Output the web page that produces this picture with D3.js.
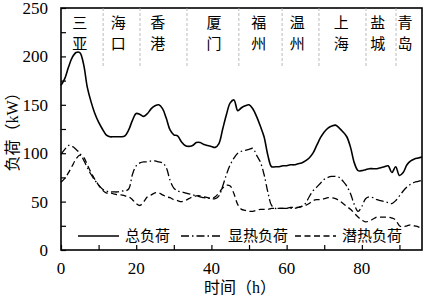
<!DOCTYPE html>
<html>
<head>
<meta charset="utf-8">
<script src="https://cdn.jsdelivr.net/npm/d3@7"></script>
<style>
  body { margin: 0; background: #fff; }
  text { font-family: "Liberation Serif", "Noto Sans CJK SC", serif; fill: #000; }
</style>
</head>
<body>
<svg id="chart"></svg>
<script>
// hourly loads (kW)
const hours = d3.range(0, 97);
const totalLoad = [170,177,189,199,204,204,192,168,153,141,132,125,119,117,117,117,117,118,124,134,
  141,140,138,141,146,149,150,146,136,124,119,118,112,108,107,108,111,111,109,108,
  107,106,110,125,140,152,155,144,147,149,150,146,138,128,117,98,86,86,86,87,
  87,88,88,89,90,92,95,100,108,116,122,126,128,129,126,122,117,106,90,82,
  82,83,84,84,84,85,86,87,80,86,77,80,88,92,94,95,96];
const sensibleLoad = [99,104,108,107,104,100,93,85,78,72,67,63,61,60,60,60,61,61,63,78,
  87,90,91,91,92,92,91,90,85,72,64,61,60,59,58,57,56,55,54,54,
  53,53,56,66,78,88,95,100,102,103,104,105,98,91,78,60,46,43,43,43,
  43,43,43,44,45,48,55,61,65,69,73,75,76,76,75,71,66,58,47,40,
  45,53,55,54,52,51,50,49,48,51,56,61,65,68,70,71,72];
const latentLoad = [70,74,80,87,94,98,96,88,80,73,67,62,59,59,58,57,57,56,55,52,
  48,46,50,55,57,59,59,57,55,54,52,51,50,51,53,55,56,56,55,54,
  53,55,59,64,67,66,58,47,42,41,40,40,41,42,42,42,43,43,43,43,
  43,44,44,44,45,46,48,51,52,52,53,54,54,53,51,48,45,42,38,34,
  31,29,30,32,34,34,34,34,33,31,25,24,25,26,25,24,22];

const seriesNames = ['总负荷', '显热负荷', '潜热负荷'];
const cities = ['三亚', '海口', '香港', '厦门', '福州', '温州', '上海', '盐城', '青岛'];
const cityHours = [5, 15.2, 25.7, 40.7, 52.6, 62.8, 74.5, 84.2, 91.5];
const cityBreaks = [11.2, 21, 33.5, 47.3, 58.8, 68.6, 81.1, 89.1];
const xTicks = [0, 20, 40, 60, 80];
const yTicks = [0, 50, 100, 150, 200, 250];

const config = {
  width: 425, height: 298,
  margin: { top: 8, right: 3, bottom: 48, left: 61 }
};

const svg = d3.select('#chart')
    .attr('width', config.width)
    .attr('height', config.height);

const innerW = config.width - config.margin.left - config.margin.right;
const innerH = config.height - config.margin.top - config.margin.bottom;

const chart = svg.append('g')
    .attr('transform', `translate(${config.margin.left},${config.margin.top})`);

const xScale = d3.scaleLinear().domain([0, 96]).range([0, innerW]);
const yScale = d3.scaleLinear().domain([0, 250]).range([innerH, 0]);

// axes with inward ticks
const xAxis = d3.axisBottom(xScale)
    .tickValues(d3.range(0, 97, 10))
    .tickSize(-5)
    .tickSizeOuter(0)
    .tickFormat('');
const yAxis = d3.axisLeft(yScale)
    .tickValues(d3.range(0, 251, 25))
    .tickSize(-5)
    .tickSizeOuter(0)
    .tickFormat('');

chart.append('g')
    .attr('transform', `translate(0,${innerH})`)
    .call(xAxis)
    .call(g => g.select('.domain').remove())
    .selectAll('line').attr('stroke', '#000').attr('stroke-width', 1.2);

chart.append('g')
    .call(yAxis)
    .call(g => g.select('.domain').remove())
    .selectAll('line').attr('stroke', '#000').attr('stroke-width', 1.2);

// frame
chart.append('rect')
    .attr('width', innerW)
    .attr('height', innerH)
    .attr('fill', 'none')
    .attr('stroke', '#000')
    .attr('stroke-width', 1.6);

// tick labels
chart.selectAll('.x-label')
    .data(xTicks)
  .join('text')
    .attr('x', d => xScale(d))
    .attr('y', innerH + 24)
    .attr('text-anchor', 'middle')
    .style('font-size', '17px')
    .text(d => d);

chart.selectAll('.y-label')
    .data(yTicks)
  .join('text')
    .attr('x', -13)
    .attr('y', d => yScale(d))
    .attr('dy', '0.35em')
    .attr('text-anchor', 'end')
    .style('font-size', '17px')
    .text(d => d);

// axis titles
svg.append('text')
    .attr('x', 240)
    .attr('y', 293)
    .attr('text-anchor', 'middle')
    .style('font-size', '16px')
    .text('时间（h）');

svg.append('text')
    .attr('transform', 'translate(18,128) rotate(-90)')
    .attr('text-anchor', 'middle')
    .style('font-size', '16px')
    .text('负荷（kW）');

// city separators and names
chart.selectAll('.city-break')
    .data(cityBreaks)
  .join('line')
    .attr('x1', d => xScale(d))
    .attr('x2', d => xScale(d))
    .attr('y1', 0)
    .attr('y2', 60)
    .attr('stroke', '#aaa')
    .attr('stroke-width', 0.8)
    .attr('stroke-dasharray', '3,2');

const cityG = chart.selectAll('.city')
    .data(cities)
  .join('g')
    .attr('transform', (d, i) => `translate(${xScale(cityHours[i])},0)`);
cityG.append('text')
    .attr('y', 20)
    .attr('text-anchor', 'middle')
    .style('font-size', '15px')
    .text(d => d[0]);
cityG.append('text')
    .attr('y', 41)
    .attr('text-anchor', 'middle')
    .style('font-size', '15px')
    .text(d => d[1]);

// lines
const styles = [
  { dash: null, width: 1.6 },
  { dash: '8,3,1.5,3', width: 1.3 },
  { dash: '6,3.5', width: 1.3 }
];
const seriesData = [totalLoad, sensibleLoad, latentLoad];

const line = d3.line()
    .x((d, i) => xScale(hours[i]))
    .y(d => yScale(d))
    .curve(d3.curveCatmullRom.alpha(0.5));

chart.selectAll('.chart-line')
    .data(seriesData)
  .join('path')
    .attr('class', 'chart-line')
    .attr('d', line)
    .attr('fill', 'none')
    .attr('stroke', '#000')
    .attr('stroke-width', (d, i) => styles[i].width)
    .attr('stroke-dasharray', (d, i) => styles[i].dash);

// legend
const legendX = [17, 120, 234];
const legend = chart.selectAll('.legend')
    .data(seriesNames)
  .join('g')
    .attr('transform', (d, i) => `translate(${legendX[i]},${innerH - 14})`);
legend.append('line')
    .attr('x1', 0).attr('x2', 41)
    .attr('stroke', '#000')
    .attr('stroke-width', (d, i) => styles[i].width)
    .attr('stroke-dasharray', (d, i) => styles[i].dash);
legend.append('text')
    .attr('x', 47)
    .attr('dy', '0.35em')
    .style('font-size', '15px')
    .text(d => d);
</script>
</body>
</html>
